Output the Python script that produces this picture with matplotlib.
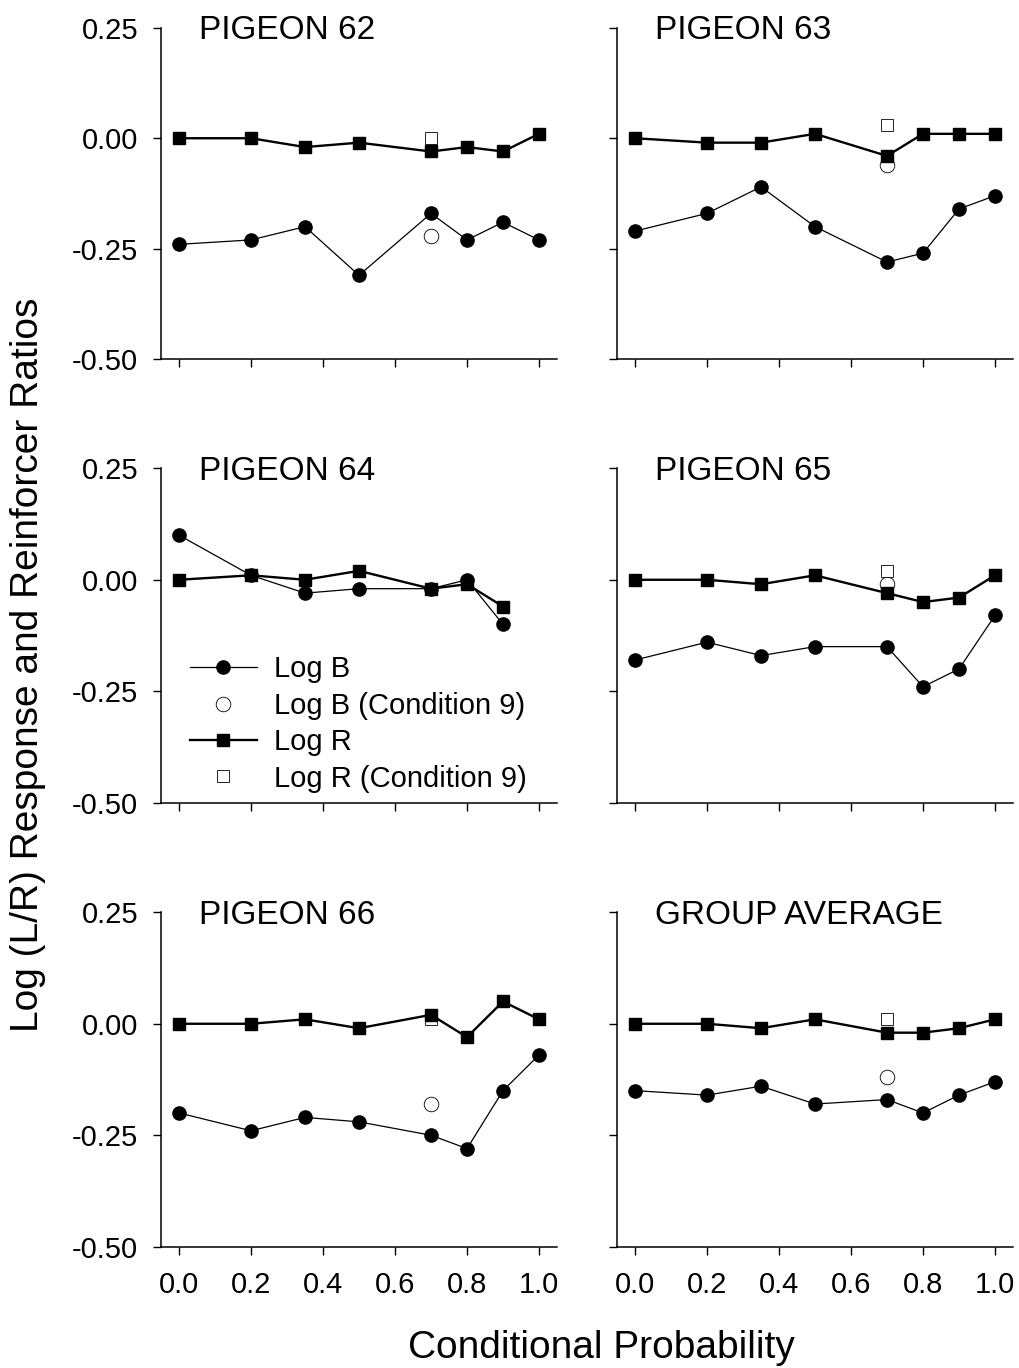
import numpy as np
import matplotlib
matplotlib.use("Agg")
import matplotlib.pyplot as plt
from matplotlib.lines import Line2D

plt.rcParams['font.family'] = ['Liberation Sans', 'DejaVu Sans']

# ---- data ----
cond_prob = [0.0, 0.2, 0.35, 0.5, 0.7, 0.8, 0.9, 1.0]
cond9_x = 0.7

titles = ["PIGEON 62", "PIGEON 63", "PIGEON 64", "PIGEON 65", "PIGEON 66", "GROUP AVERAGE"]

logB_62 = [-0.24, -0.23, -0.20, -0.31, -0.17, -0.23, -0.19, -0.23]
logR_62 = [0.00, 0.00, -0.02, -0.01, -0.03, -0.02, -0.03, 0.01]
logB_63 = [-0.21, -0.17, -0.11, -0.20, -0.28, -0.26, -0.16, -0.13]
logR_63 = [0.00, -0.01, -0.01, 0.01, -0.04, 0.01, 0.01, 0.01]
logB_64 = [0.10, 0.01, -0.03, -0.02, -0.02, 0.00, -0.10, np.nan]
logR_64 = [0.00, 0.01, 0.00, 0.02, -0.02, -0.01, -0.06, np.nan]
logB_65 = [-0.18, -0.14, -0.17, -0.15, -0.15, -0.24, -0.20, -0.08]
logR_65 = [0.00, 0.00, -0.01, 0.01, -0.03, -0.05, -0.04, 0.01]
logB_66 = [-0.20, -0.24, -0.21, -0.22, -0.25, -0.28, -0.15, -0.07]
logR_66 = [0.00, 0.00, 0.01, -0.01, 0.02, -0.03, 0.05, 0.01]
logB_avg = [-0.15, -0.16, -0.14, -0.18, -0.17, -0.20, -0.16, -0.13]
logR_avg = [0.00, 0.00, -0.01, 0.01, -0.02, -0.02, -0.01, 0.01]

logB_cond9 = [-0.22, -0.06, None, -0.01, -0.18, -0.12]
logR_cond9 = [0.00, 0.03, None, 0.02, 0.01, 0.01]

logB_all = [logB_62, logB_63, logB_64, logB_65, logB_66, logB_avg]
logR_all = [logR_62, logR_63, logR_64, logR_65, logR_66, logR_avg]

x_ticks = [0.0, 0.2, 0.4, 0.6, 0.8, 1.0]
x_ticklabels = ["0.0", "0.2", "0.4", "0.6", "0.8", "1.0"]
y_ticks = [-0.50, -0.25, 0.00, 0.25]
y_ticklabels = ["-0.50", "-0.25", "0.00", "0.25"]

# ---- layout ----
W, H = 1019, 1368
fig = plt.figure(figsize=(W / 100, H / 100), dpi=100)

col_left = [161, 617]
col_w = 396
row_top = [27.7, 468.3, 912.3]
row_h = [331.6, 334.4, 334.4]

axes = []
for r in range(3):
    for c in range(2):
        l = col_left[c] / W
        b = 1 - (row_top[r] + row_h[r]) / H
        ax = fig.add_axes([l, b, col_w / W, row_h[r] / H])
        axes.append(ax)

for i, ax in enumerate(axes):
    r, c = divmod(i, 2)
    ax.plot(cond_prob, logB_all[i], color='black', lw=0.9, marker='o', ms=9.5,
            mfc='black', mec='black', zorder=3)
    ax.plot(cond_prob, logR_all[i], color='black', lw=1.7, marker='s', ms=8.5,
            mfc='black', mec='black', zorder=3)
    if logB_cond9[i] is not None:
        ax.plot([cond9_x], [logB_cond9[i]], ls='none', marker='o', ms=10.5,
                mfc='white', mec='black', mew=0.6, zorder=2)
    if logR_cond9[i] is not None:
        ax.plot([cond9_x], [logR_cond9[i]], ls='none', marker='s', ms=8,
                mfc='white', mec='black', mew=0.6, zorder=2)

    ax.set_xlim(-0.05, 1.05)
    ax.set_ylim(-0.50, 0.25)
    ax.spines['top'].set_visible(False)
    ax.spines['right'].set_visible(False)
    for s in ('left', 'bottom'):
        ax.spines[s].set_linewidth(1.1)
    ax.set_xticks(x_ticks)
    ax.set_yticks(y_ticks)
    ax.tick_params(direction='out', length=5.5, width=1.0)
    ax.tick_params(axis='y', pad=11, labelsize=21)
    ax.tick_params(axis='x', pad=12, labelsize=21)
    if r == 2:
        ax.set_xticklabels(x_ticklabels)
    else:
        ax.set_xticklabels([])
    if c == 0:
        ax.set_yticklabels(y_ticklabels)
    else:
        ax.set_yticklabels([])
    ax.text(0.097, 0.966, titles[i], transform=ax.transAxes, fontsize=24,
            ha='left', va='baseline')

# legend in PIGEON 64 panel
handles = [
    Line2D([], [], color='black', lw=0.9, marker='o', ms=9.5),
    Line2D([], [], ls='none', marker='o', ms=10.5, mfc='white', mec='black', mew=0.6),
    Line2D([], [], color='black', lw=1.7, marker='s', ms=8.5),
    Line2D([], [], ls='none', marker='s', ms=8, mfc='white', mec='black', mew=0.6),
]
labels = ["Log B", "Log B (Condition 9)", "Log R", "Log R (Condition 9)"]
axes[2].legend(handles, labels, loc='lower left', bbox_to_anchor=(0.073, 0.03),
               frameon=False, fontsize=21, handlelength=2.3, handletextpad=0.6,
               labelspacing=0.29, borderpad=0, borderaxespad=0)

fig.text(28 / W, 1 - 665 / H, "Log (L/R) Response and Reinforcer Ratios",
         rotation=90, ha='center', va='center', fontsize=28)
fig.text(601 / W, 1 - 1348 / H, "Conditional Probability",
         ha='center', va='center', fontsize=28)

fig.savefig("out.png", dpi=100)
